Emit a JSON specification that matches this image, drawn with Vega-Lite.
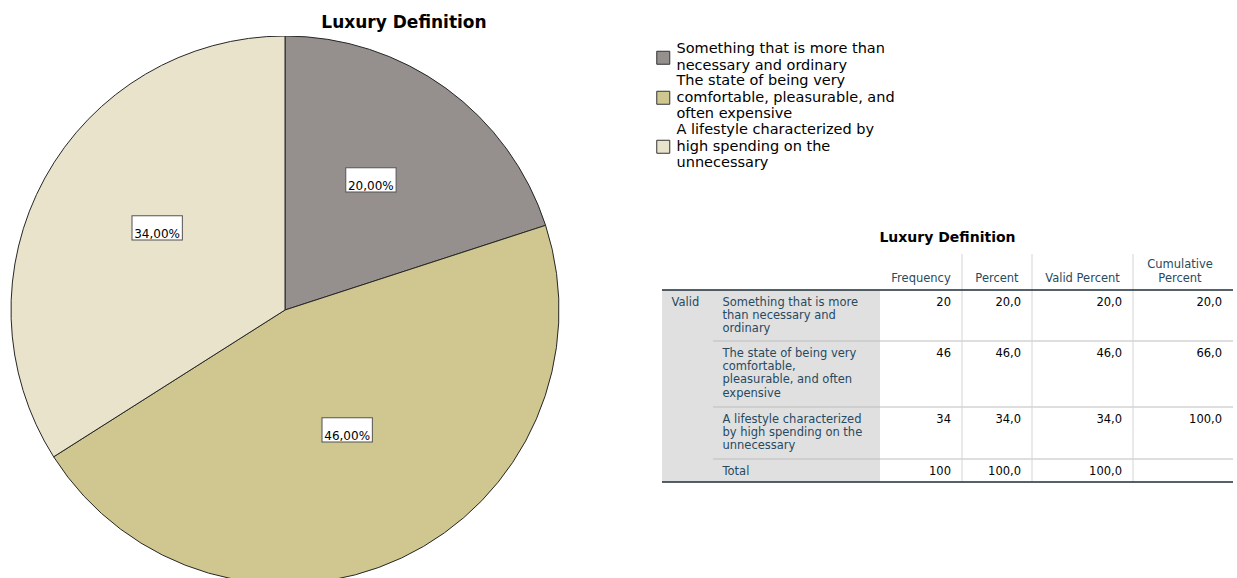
{
  "$schema": "https://vega.github.io/schema/vega-lite/v6.json",
  "padding": {"left": 0, "top": 14, "right": 0, "bottom": 0},
  "spacing": 0,
  "config": {"view": {"stroke": null}, "font": "DejaVu Sans"},
  "datasets": {
    "freq": [
      {"category": "Something that is more than necessary and ordinary", "count": 20, "label": "20,00%", "order": 1},
      {"category": "The state of being very comfortable, pleasurable, and often expensive", "count": 46, "label": "46,00%", "order": 2},
      {"category": "A lifestyle characterized by high spending on the unnecessary", "count": 34, "label": "34,00%", "order": 3}
    ],
    "headers": [
      {"col": 2, "lines": 1, "text": "Frequency"},
      {"col": 3, "lines": 1, "text": "Percent"},
      {"col": 4, "lines": 1, "text": "Valid Percent"},
      {"col": 5, "lines": 2, "text": "Cumulative|Percent"}
    ],
    "stub": [
      {"col": 0, "row": 1, "text": "Valid"},
      {"col": 1, "row": 1, "text": "Something that is more|than necessary and|ordinary"},
      {"col": 1, "row": 2, "text": "The state of being very|comfortable,|pleasurable, and often|expensive"},
      {"col": 1, "row": 3, "text": "A lifestyle characterized|by high spending on the|unnecessary"},
      {"col": 1, "row": 4, "text": "Total"}
    ],
    "cells": [
      {"row": 1, "col": 2, "value": "20"},
      {"row": 1, "col": 3, "value": "20,0"},
      {"row": 1, "col": 4, "value": "20,0"},
      {"row": 1, "col": 5, "value": "20,0"},
      {"row": 2, "col": 2, "value": "46"},
      {"row": 2, "col": 3, "value": "46,0"},
      {"row": 2, "col": 4, "value": "46,0"},
      {"row": 2, "col": 5, "value": "66,0"},
      {"row": 3, "col": 2, "value": "34"},
      {"row": 3, "col": 3, "value": "34,0"},
      {"row": 3, "col": 4, "value": "34,0"},
      {"row": 3, "col": 5, "value": "100,0"},
      {"row": 4, "col": 2, "value": "100"},
      {"row": 4, "col": 3, "value": "100,0"},
      {"row": 4, "col": 4, "value": "100,0"}
    ]
  },
  "hconcat": [
    {
      "width": 570,
      "height": 543,
      "title": {"text": "Luxury Definition", "fontSize": 17, "fontWeight": "bold", "font": "DejaVu Sans", "color": "#000000", "anchor": "middle", "dx": 119, "offset": 4},
      "data": {"name": "freq"},
      "encoding": {
        "theta": {"field": "count", "type": "quantitative", "stack": true},
        "order": {"field": "order", "type": "quantitative"}
      },
      "layer": [
        {
          "mark": {"type": "arc", "outerRadius": 274, "stroke": "#262626", "strokeWidth": 1, "clip": true, "yOffset": 2.5},
          "encoding": {
            "color": {
              "field": "category", "type": "nominal",
              "scale": {
                "domain": ["Something that is more than necessary and ordinary", "The state of being very comfortable, pleasurable, and often expensive", "A lifestyle characterized by high spending on the unnecessary"],
                "range": ["#958f8e", "#cfc78f", "#e9e3cc"]
              },
              "legend": {
                "title": null, "orient": "none", "legendX": 656, "legendY": 14.5,
                "padding": 0, "symbolType": "square", "symbolSize": 169,
                "symbolStrokeColor": "#333333", "symbolStrokeWidth": 1,
                "labelFont": "DejaVu Sans", "labelFontSize": 14.5, "labelColor": "#000000",
                "labelLimit": 500, "labelOffset": 6, "labelLineHeight": 16.6, "rowPadding": 0,
                "labelExpr": "datum.value == 'Something that is more than necessary and ordinary' ? ['Something that is more than', 'necessary and ordinary'] : datum.value == 'The state of being very comfortable, pleasurable, and often expensive' ? ['The state of being very', 'comfortable, pleasurable, and', 'often expensive'] : ['A lifestyle characterized by', 'high spending on the', 'unnecessary']",
                "encode": {
                  "labels": {
                    "update": {
                      "dy": {"signal": "datum.value == 'Something that is more than necessary and ordinary' ? -8.3 : -16.6"}
                    }
                  }
                }
              }
            }
          }
        },
        {
          "mark": {"type": "text", "radius": 146, "yOffset": -3.5, "text": "▬", "font": "DejaVu Sans", "fontSize": 66, "fill": "#ffffff", "stroke": "#555555", "strokeWidth": 1, "baseline": "middle", "align": "center", "dy": -9}
        },
        {
          "mark": {"type": "text", "radius": 146, "yOffset": -3.5, "font": "DejaVu Sans", "fontSize": 12, "color": "#000000", "baseline": "middle", "align": "center"},
          "encoding": {"text": {"field": "label"}}
        }
      ]
    },
    {
      "width": 667,
      "height": 450,
      "resolve": {"scale": {"x": "independent", "y": "independent"}},
      "layer": [
        {
          "data": {"values": [{"area": "stub"}]},
          "mark": {"type": "rect", "fill": "#e0e0e0"},
          "encoding": {
            "x": {"datum": 0, "type": "quantitative", "axis": null, "scale": {"domain": [0, 1, 2, 3, 4, 5, 6], "range": [92, 143, 310, 392, 462, 563, 663], "nice": false, "zero": false}},
            "x2": {"datum": 2},
            "y": {"datum": 1, "type": "quantitative", "axis": null, "scale": {"domain": [0, 1, 2, 3, 4, 5], "range": [218, 254, 305, 371, 423, 446], "nice": false, "zero": false}},
            "y2": {"datum": 5}
          }
        },
        {
          "data": {"values": [{"edge": 2}, {"edge": 3}, {"edge": 4}]},
          "mark": {"type": "rule", "stroke": "#bdbdbd", "strokeWidth": 1},
          "encoding": {
            "x": {"datum": 1, "type": "quantitative", "axis": null, "scale": {"domain": [0, 1, 2, 3, 4, 5, 6], "range": [92, 143, 310, 392, 462, 563, 663], "nice": false, "zero": false}},
            "x2": {"datum": 6},
            "y": {"field": "edge", "type": "quantitative", "axis": null, "scale": {"domain": [0, 1, 2, 3, 4, 5], "range": [218, 254, 305, 371, 423, 446], "nice": false, "zero": false}}
          }
        },
        {
          "data": {"values": [{"edge": 3}, {"edge": 4}, {"edge": 5}]},
          "mark": {"type": "rule", "stroke": "#d4d4d4", "strokeWidth": 1},
          "encoding": {
            "x": {"field": "edge", "type": "quantitative", "axis": null, "scale": {"domain": [0, 1, 2, 3, 4, 5, 6], "range": [92, 143, 310, 392, 462, 563, 663], "nice": false, "zero": false}},
            "y": {"datum": 0, "type": "quantitative", "axis": null, "scale": {"domain": [0, 1, 2, 3, 4, 5], "range": [218, 254, 305, 371, 423, 446], "nice": false, "zero": false}},
            "y2": {"datum": 5}
          }
        },
        {
          "data": {"values": [{"edge": 1}, {"edge": 5}]},
          "mark": {"type": "rule", "stroke": "#1c2c3a", "strokeWidth": 1.5},
          "encoding": {
            "x": {"datum": 0, "type": "quantitative", "axis": null, "scale": {"domain": [0, 1, 2, 3, 4, 5, 6], "range": [92, 143, 310, 392, 462, 563, 663], "nice": false, "zero": false}},
            "x2": {"datum": 6},
            "y": {"field": "edge", "type": "quantitative", "axis": null, "scale": {"domain": [0, 1, 2, 3, 4, 5], "range": [218, 254, 305, 371, 423, 446], "nice": false, "zero": false}}
          }
        },
        {
          "data": {"values": [{"title": "Luxury Definition"}]},
          "mark": {"type": "text", "font": "DejaVu Sans", "fontSize": 14, "fontWeight": "bold", "color": "#000000", "align": "center", "baseline": "bottom", "dy": -9},
          "encoding": {
            "text": {"field": "title"},
            "x": {"datum": 0.5, "type": "quantitative", "axis": null, "scale": {"domain": [0, 1], "range": [92, 663], "nice": false, "zero": false}},
            "y": {"datum": 0, "type": "quantitative", "axis": null, "scale": {"domain": [0, 1, 2, 3, 4, 5], "range": [218, 254, 305, 371, 423, 446], "nice": false, "zero": false}}
          }
        },
        {
          "data": {"name": "headers"},
          "mark": {"type": "text", "font": "DejaVu Sans", "fontSize": 11.5, "color": "#264a60", "align": "center", "baseline": "bottom", "lineBreak": "|", "lineHeight": 14},
          "encoding": {
            "text": {"field": "text"},
            "x": {"field": "col", "type": "quantitative", "axis": null, "scale": {"domain": [2, 3, 4, 5], "range": [351, 427, 512.5, 610], "nice": false, "zero": false}},
            "y": {"field": "lines", "type": "quantitative", "axis": null, "scale": {"domain": [1, 2], "range": [248.4, 234.4], "nice": false, "zero": false}}
          }
        },
        {
          "data": {"name": "stub"},
          "mark": {"type": "text", "font": "DejaVu Sans", "fontSize": 11.5, "color": "#264a60", "align": "left", "baseline": "top", "lineBreak": "|", "lineHeight": 13.2, "dx": 9.5, "dy": 7},
          "encoding": {
            "text": {"field": "text"},
            "x": {"field": "col", "type": "quantitative", "axis": null, "scale": {"domain": [0, 1, 2, 3, 4, 5, 6], "range": [92, 143, 310, 392, 462, 563, 663], "nice": false, "zero": false}},
            "y": {"field": "row", "type": "quantitative", "axis": null, "scale": {"domain": [0, 1, 2, 3, 4, 5], "range": [218, 254, 305, 371, 423, 446], "nice": false, "zero": false}}
          }
        },
        {
          "data": {"name": "cells"},
          "mark": {"type": "text", "font": "DejaVu Sans", "fontSize": 11.5, "color": "#010205", "align": "right", "baseline": "top", "dx": -11, "dy": 7},
          "encoding": {
            "text": {"field": "value"},
            "x": {"field": "col", "type": "quantitative", "axis": null, "scale": {"domain": [2, 3, 4, 5], "range": [392, 462, 563, 663], "nice": false, "zero": false}},
            "y": {"field": "row", "type": "quantitative", "axis": null, "scale": {"domain": [0, 1, 2, 3, 4, 5], "range": [218, 254, 305, 371, 423, 446], "nice": false, "zero": false}}
          }
        }
      ]
    }
  ]
}
